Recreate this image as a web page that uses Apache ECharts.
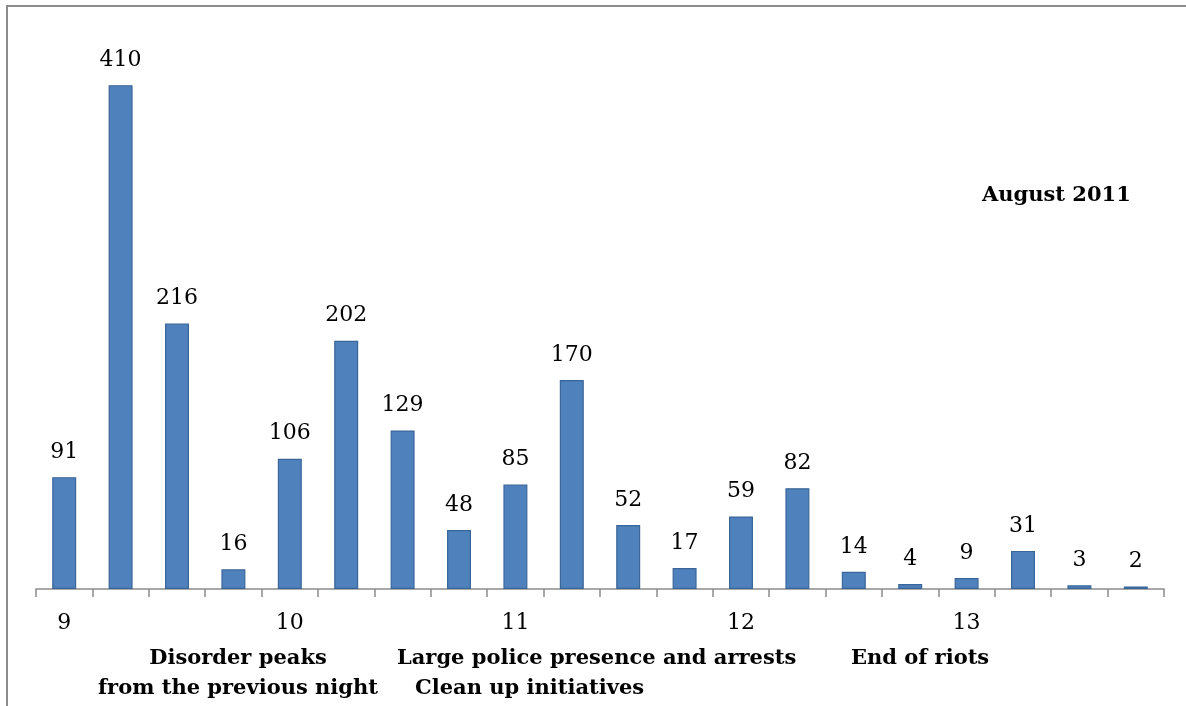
<!DOCTYPE html>
<html>
<head>
<meta charset="utf-8">
<script src="https://cdn.jsdelivr.net/npm/echarts@6/dist/echarts.min.js"></script>
<style>
html,body{margin:0;padding:0;background:#fff;}
#c{width:1186px;height:706px;}
</style>
</head>
<body>
<div id="c"></div>
<script>
const categories = ['9','','','','10','','','','11','','','','12','','','','13','','',''];
const values = [91,410,216,16,106,202,129,48,85,170,52,17,59,82,14,4,9,31,3,2];
const dayNotes = [
  {text:'Disorder peaks', x:238, y:659, align:'center'},
  {text:'from the previous night', x:238, y:689, align:'center'},
  {text:'Large police presence and arrests', x:397, y:659, align:'left'},
  {text:'Clean up initiatives', x:415, y:689, align:'left'},
  {text:'End of riots', x:851, y:659, align:'left'}
];
const periodLabel = 'August 2011';

const serif = '"DejaVu Serif", "Liberation Serif", serif';
const chart = echarts.init(document.getElementById('c'), null, {renderer:'canvas'});
const graphics = [
  {type:'rect', shape:{x:7,y:6,width:1300,height:800}, style:{fill:'none', stroke:'#8c8c8c', lineWidth:2}, z:-1},
  {type:'text', x:982, y:196, style:{text:periodLabel, font:'bold 21px '+serif, fill:'#000', verticalAlign:'middle'}}
];
dayNotes.forEach(n=>{
  graphics.push({type:'text', x:n.x, y:n.y, style:{text:n.text, font:'bold 21px '+serif, fill:'#000', align:n.align, verticalAlign:'middle'}});
});
chart.setOption({
  animation:false,
  grid:{left:36, right:22, top:36, bottom:117, containLabel:false},
  xAxis:{
    type:'category', data:categories,
    axisLine:{lineStyle:{color:'#8c8c8c', width:1.5}},
    axisTick:{show:true, interval:0, length:8, alignWithLabel:false, lineStyle:{color:'#8c8c8c', width:1.5}},
    axisLabel:{interval:0, margin:23, color:'#000', fontSize:22, fontFamily:serif}
  },
  yAxis:{type:'value', min:0, max:450, show:false, splitLine:{show:false}},
  series:[{
    type:'bar', data:values, barWidth:24,
    itemStyle:{color:'#4f81bd', borderColor:'#3b6699', borderWidth:1.2},
    label:{show:true, position:'top', distance:14, color:'#000', fontSize:22, fontFamily:serif}
  }],
  graphic:graphics
});
</script>
</body>
</html>
